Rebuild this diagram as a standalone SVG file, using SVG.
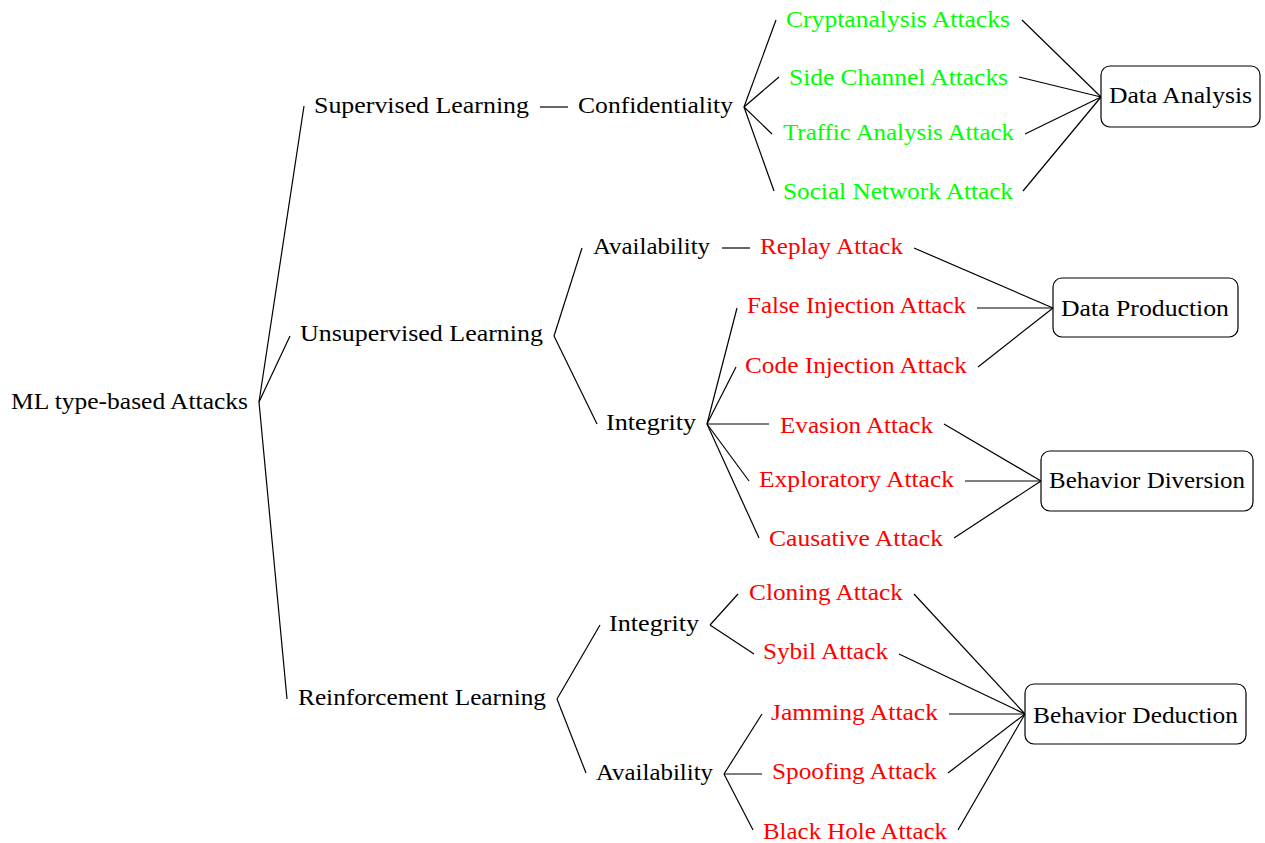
<svg xmlns="http://www.w3.org/2000/svg" width="1265" height="843" viewBox="0 0 1265 843">
<style>
text{font-family:"Liberation Serif","Times New Roman",serif;font-size:24px;fill:#000}
.g{fill:#00ff00}
.r{fill:#ff0000}
.c line{stroke:#000;stroke-width:1.2}
.box{fill:#fff;stroke:#000;stroke-width:1.2}
</style>
<rect width="1265" height="843" fill="#fff"/>
<g class="c" id="connectors">
<line x1="259" y1="402" x2="304" y2="106"/>
<line x1="259" y1="402" x2="290" y2="336"/>
<line x1="259" y1="402" x2="287" y2="699"/>
<line x1="540" y1="107" x2="568" y2="107"/>
<line x1="744" y1="107" x2="776" y2="20"/>
<line x1="744" y1="107" x2="779" y2="77"/>
<line x1="744" y1="107" x2="772" y2="134"/>
<line x1="744" y1="107" x2="774" y2="191"/>
<line x1="1022" y1="20" x2="1101" y2="97"/>
<line x1="1019" y1="77" x2="1101" y2="97"/>
<line x1="1025" y1="134" x2="1101" y2="97"/>
<line x1="1023" y1="191" x2="1101" y2="97"/>
<line x1="554" y1="336" x2="582" y2="248"/>
<line x1="554" y1="336" x2="597" y2="424"/>
<line x1="722" y1="248" x2="750" y2="248"/>
<line x1="914" y1="248" x2="1053" y2="308"/>
<line x1="707" y1="424" x2="737" y2="308"/>
<line x1="707" y1="424" x2="736" y2="367"/>
<line x1="707" y1="424" x2="769" y2="424"/>
<line x1="707" y1="424" x2="749" y2="481"/>
<line x1="707" y1="424" x2="759" y2="538"/>
<line x1="977" y1="308" x2="1053" y2="308"/>
<line x1="978" y1="367" x2="1053" y2="308"/>
<line x1="944" y1="424" x2="1041" y2="481"/>
<line x1="965" y1="481" x2="1041" y2="481"/>
<line x1="954" y1="538" x2="1041" y2="481"/>
<line x1="557" y1="699" x2="600" y2="625"/>
<line x1="557" y1="699" x2="586" y2="773"/>
<line x1="710" y1="625" x2="738" y2="594"/>
<line x1="710" y1="625" x2="754" y2="654"/>
<line x1="724" y1="774" x2="762" y2="714"/>
<line x1="724" y1="774" x2="762" y2="774"/>
<line x1="724" y1="774" x2="753" y2="830"/>
<line x1="914" y1="594" x2="1025" y2="714"/>
<line x1="899" y1="654" x2="1025" y2="714"/>
<line x1="949" y1="714" x2="1025" y2="714"/>
<line x1="948" y1="773" x2="1025" y2="714"/>
<line x1="958" y1="830" x2="1025" y2="714"/>
</g>
<g id="root"><text x="11" y="409" textLength="237" lengthAdjust="spacingAndGlyphs">ML type-based Attacks</text></g>
<g id="supervised"><text x="314" y="113" textLength="215" lengthAdjust="spacingAndGlyphs">Supervised Learning</text></g>
<g id="confidentiality"><text x="578" y="113" textLength="155" lengthAdjust="spacingAndGlyphs">Confidentiality</text></g>
<g id="crypt"><text class="g" x="786" y="27" textLength="224" lengthAdjust="spacingAndGlyphs">Cryptanalysis Attacks</text></g>
<g id="side"><text class="g" x="789" y="85" textLength="219" lengthAdjust="spacingAndGlyphs">Side Channel Attacks</text></g>
<g id="traffic"><text class="g" x="783" y="140" textLength="231" lengthAdjust="spacingAndGlyphs">Traffic Analysis Attack</text></g>
<g id="social"><text class="g" x="783" y="199" textLength="230" lengthAdjust="spacingAndGlyphs">Social Network Attack</text></g>
<g id="dataAnalysis"><rect class="box" x="1101" y="66" width="159" height="61" rx="9"/><text x="1109" y="103" textLength="143" lengthAdjust="spacingAndGlyphs">Data Analysis</text></g>
<g id="unsupervised"><text x="300" y="341" textLength="243" lengthAdjust="spacingAndGlyphs">Unsupervised Learning</text></g>
<g id="availability1"><text x="593" y="254" textLength="117" lengthAdjust="spacingAndGlyphs">Availability</text></g>
<g id="replay"><text class="r" x="760" y="254" textLength="143" lengthAdjust="spacingAndGlyphs">Replay Attack</text></g>
<g id="integrity1"><text x="606" y="430" textLength="90" lengthAdjust="spacingAndGlyphs">Integrity</text></g>
<g id="falseInj"><text class="r" x="747" y="313" textLength="219" lengthAdjust="spacingAndGlyphs">False Injection Attack</text></g>
<g id="codeInj"><text class="r" x="745" y="373" textLength="222" lengthAdjust="spacingAndGlyphs">Code Injection Attack</text></g>
<g id="evasion"><text class="r" x="780" y="433" textLength="153" lengthAdjust="spacingAndGlyphs">Evasion Attack</text></g>
<g id="exploratory"><text class="r" x="759" y="487" textLength="195" lengthAdjust="spacingAndGlyphs">Exploratory Attack</text></g>
<g id="causative"><text class="r" x="769" y="546" textLength="174" lengthAdjust="spacingAndGlyphs">Causative Attack</text></g>
<g id="dataProduction"><rect class="box" x="1053" y="278" width="185" height="59" rx="9"/><text x="1061" y="316" textLength="168" lengthAdjust="spacingAndGlyphs">Data Production</text></g>
<g id="behaviorDiversion"><rect class="box" x="1041" y="451" width="212" height="60" rx="9"/><text x="1049" y="488" textLength="196" lengthAdjust="spacingAndGlyphs">Behavior Diversion</text></g>
<g id="reinforcement"><text x="298" y="705" textLength="248" lengthAdjust="spacingAndGlyphs">Reinforcement Learning</text></g>
<g id="integrity2"><text x="609" y="631" textLength="90" lengthAdjust="spacingAndGlyphs">Integrity</text></g>
<g id="availability2"><text x="596" y="780" textLength="117" lengthAdjust="spacingAndGlyphs">Availability</text></g>
<g id="cloning"><text class="r" x="749" y="600" textLength="154" lengthAdjust="spacingAndGlyphs">Cloning Attack</text></g>
<g id="sybil"><text class="r" x="763" y="659" textLength="125" lengthAdjust="spacingAndGlyphs">Sybil Attack</text></g>
<g id="jamming"><text class="r" x="771" y="720" textLength="167" lengthAdjust="spacingAndGlyphs">Jamming Attack</text></g>
<g id="spoofing"><text class="r" x="772" y="779" textLength="165" lengthAdjust="spacingAndGlyphs">Spoofing Attack</text></g>
<g id="blackHole"><text class="r" x="763" y="839" textLength="184" lengthAdjust="spacingAndGlyphs">Black Hole Attack</text></g>
<g id="behaviorDeduction"><rect class="box" x="1025" y="684" width="221" height="60" rx="9"/><text x="1033" y="723" textLength="205" lengthAdjust="spacingAndGlyphs">Behavior Deduction</text></g>
</svg>
